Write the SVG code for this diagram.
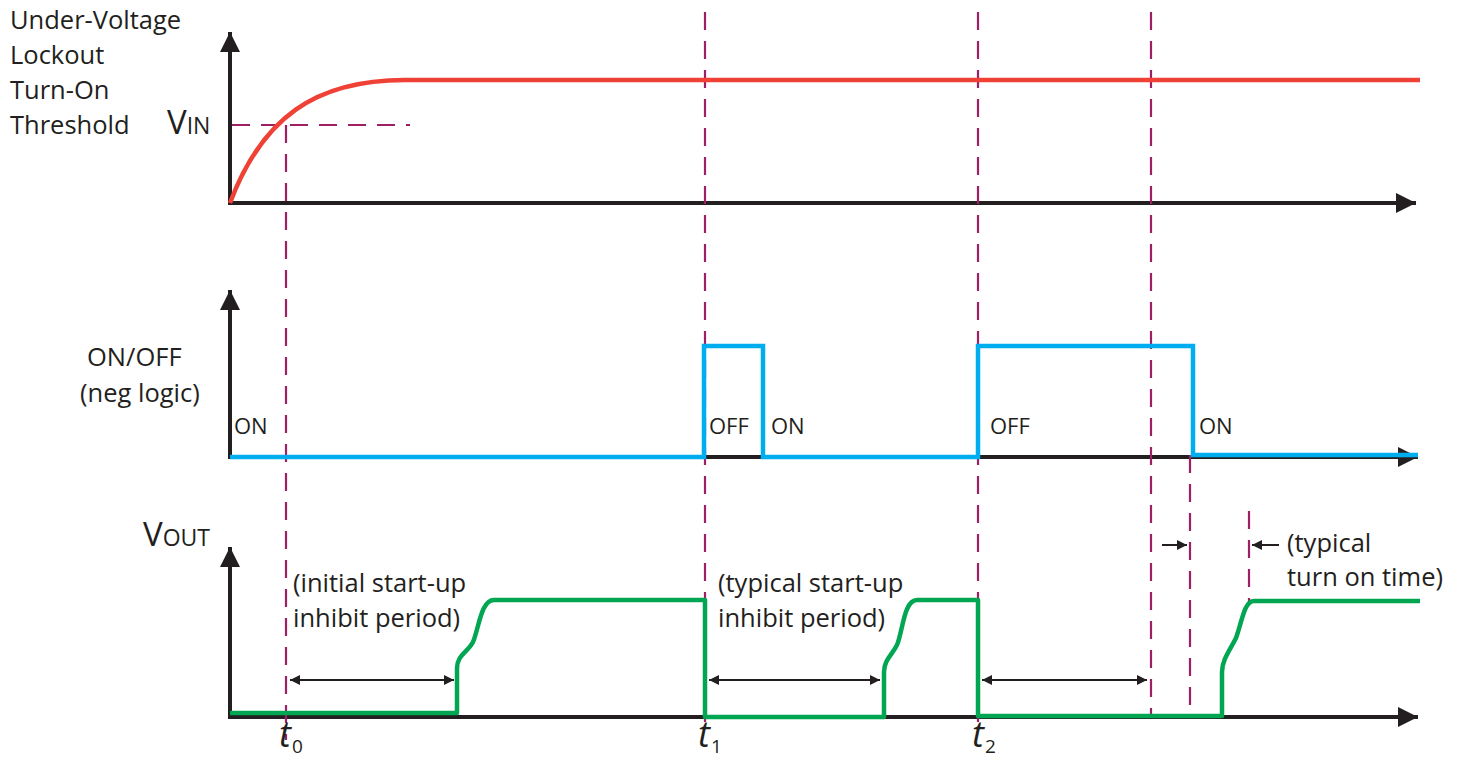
<svg xmlns="http://www.w3.org/2000/svg" width="1459" height="761" viewBox="0 0 1459 761">
<defs>
<style>
.ax{stroke:#231f20;stroke-width:4;fill:none}
.dash{stroke:#9e1f63;stroke-width:2.2;stroke-dasharray:18 11;fill:none}
.red{stroke:#ef4136;stroke-width:4.5;fill:none}
.blue{stroke:#00aeef;stroke-width:4.5;fill:none;stroke-linejoin:miter}
.green{stroke:#00a651;stroke-width:4.5;fill:none;stroke-linejoin:round}
.dim{stroke:#231f20;stroke-width:2;fill:none}
.t{font-family:"Open Sans","Liberation Sans",sans-serif;fill:#231f20;font-size:25.5px}
.s{font-family:"Open Sans","Liberation Sans",sans-serif;fill:#231f20;font-size:22px}
.big{font-family:"Open Sans","Liberation Sans",sans-serif;fill:#231f20;font-size:33px}
.it{font-family:"Open Sans","Liberation Sans",sans-serif;font-style:italic;fill:#231f20;font-size:36px}
.sub{font-style:normal;font-size:19px}
</style>
<marker id="ah" viewBox="0 0 10 10" refX="10" refY="5" markerWidth="6" markerHeight="5" markerUnits="strokeWidth" orient="auto-start-reverse">
<path d="M0,0 L10,5 L0,10 z" fill="#231f20"/>
</marker>
<marker id="sa" viewBox="0 0 10 10" refX="10" refY="5" markerWidth="7" markerHeight="5" markerUnits="strokeWidth" orient="auto-start-reverse">
<path d="M0,0 L10,5 L0,10 z" fill="#231f20"/>
</marker>
</defs>

<g id="axes">
<path class="ax" d="M230,205 V32" marker-end="url(#ah)"/>
<path class="ax" d="M228,203 H1416" marker-end="url(#ah)"/>
<path class="ax" d="M230,459 V290" marker-end="url(#ah)"/>
<path class="ax" d="M228,457 H1418" marker-end="url(#ah)"/>
<path class="ax" d="M230,719 V547" marker-end="url(#ah)"/>
<path class="ax" d="M228,717 H1418" marker-end="url(#ah)"/>
</g>

<g id="connectors">
<path class="dash" d="M232,125 H410"/>
<path class="dash" d="M286,125 V740"/>
<path class="dash" d="M705,12 V722"/>
<path class="dash" d="M978,12 V722"/>
<path class="dash" d="M1151,12 V718"/>
<path class="dash" d="M1190,455 V706"/>
<path class="dash" d="M1249,511 V602"/>
<path class="dim" d="M290,680 H454" marker-start="url(#sa)" marker-end="url(#sa)"/>
<path class="dim" d="M709,680 H880" marker-start="url(#sa)" marker-end="url(#sa)"/>
<path class="dim" d="M982,680 H1147" marker-start="url(#sa)" marker-end="url(#sa)"/>
<path class="dim" d="M1162,545 H1187" marker-end="url(#sa)"/>
<path class="dim" d="M1279,545 H1252" marker-end="url(#sa)"/>
</g>

<g id="vin-signal">
<path class="red" d="M230,203 C262,118 315,80 405,80 H1420"/>
</g>

<g id="onoff-signal">
<path class="blue" d="M230,457 H704 V346 H763 V457 H978 V346 H1193 V455 H1418"/>
</g>

<g id="vout-signal">
<path class="green" d="M230,713 H457 V668 C457,655 468,652 473,642 C479,628 481,600 494,600 H705 V717 H884 V672 C884,660 892,655 897,645 C903,630 904,600 917,600 H978 V716 H1222 V672 C1222,660 1230,650 1236,638 C1242,622 1244,601 1254,601 H1420"/>
</g>

<g id="labels">
<text class="t" x="10" y="29">Under-Voltage</text>
<text class="t" x="10" y="64">Lockout</text>
<text class="t" x="10" y="99">Turn-On</text>
<text class="t" x="10" y="134">Threshold</text>
<text class="big" x="167" y="134">V<tspan style="font-size:23px">IN</tspan></text>
<text class="t" x="87" y="366">ON/OFF</text>
<text class="t" x="80" y="402">(neg logic)</text>
<text class="s" x="234" y="434">ON</text>
<text class="s" x="709" y="434">OFF</text>
<text class="s" x="771" y="434">ON</text>
<text class="s" x="990" y="434">OFF</text>
<text class="s" x="1199" y="434">ON</text>
<text class="big" x="143" y="546">V<tspan style="font-size:23px">OUT</tspan></text>
<text class="t" x="293" y="592">(initial start-up</text>
<text class="t" x="293" y="627">inhibit period)</text>
<text class="t" x="718" y="592">(typical start-up</text>
<text class="t" x="718" y="627">inhibit period)</text>
<text class="t" x="1287" y="552">(typical</text>
<text class="t" x="1287" y="586">turn on time)</text>
<text class="it" x="279" y="747">t<tspan class="sub" dx="1" dy="6">0</tspan></text>
<text class="it" x="698" y="747">t<tspan class="sub" dx="1" dy="6">1</tspan></text>
<text class="it" x="972" y="747">t<tspan class="sub" dx="1" dy="6">2</tspan></text>
</g>
</svg>
